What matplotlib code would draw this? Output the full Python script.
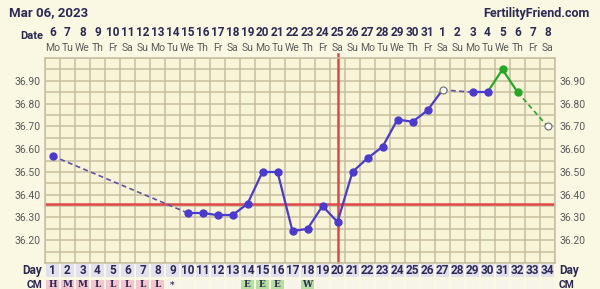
import numpy as np
import pandas as pd
import matplotlib
matplotlib.use("Agg")
import matplotlib.pyplot as plt
from matplotlib.ticker import MultipleLocator

plt.rcParams.update({"font.family": ["Roboto", "DejaVu Sans"], "font.size": 8})

# ----------------------------------------------------------------------
# Data

start_date = "2023-03-06"
cycle_days = list(range(1, 35))
nan = np.nan
temps = [36.57, nan, nan, nan, nan, nan, nan, nan, nan,
         36.32, 36.32, 36.31, 36.31, 36.36, 36.50, 36.50, 36.24, 36.25,
         36.35, 36.28, 36.50, 36.56, 36.61, 36.73, 36.72, 36.77, 36.86,
         nan, 36.85, 36.85, 36.95, 36.85, nan, 36.70]
green_days = [31, 32]
open_days = [27, 34]
coverline = 36.36
ovulation_day = 20
cm_codes = ["H", "M", "M", "L", "L", "L", "L", "L", "*", "", "", "", "",
            "E", "E", "E", "", "W"] + [""] * 16
ytick_vals = [36.20, 36.30, 36.40, 36.50, 36.60, 36.70, 36.80, 36.90]

# ----------------------------------------------------------------------
# Colours

BG = "#faf7e3"
PLOT_BG = "#f8f4d8"
GRID = "#c6bf9e"
NAVY = "#2c2a55"
GRAY = "#5a5a5a"
PURPLE = "#4a3ad0"
DASH_PURPLE = "#5c52a8"
GREEN = "#22aa22"
RED = "#e04848"

W, H = 600, 289
fig = plt.figure(figsize=(W / 100, H / 100), dpi=100, facecolor=BG)
ax = fig.add_axes([45 / W, 1 - 263 / H, 510 / W, 205 / H], facecolor=PLOT_BG)

ax.set_xlim(0.5, 34.5)
ax.set_ylim(36.10, 37.00)

# Grid: one cell per day, rows every 0.05
ax.set_xticks(np.arange(0.5, 35, 1))
ax.set_xticklabels([])
ax.yaxis.set_minor_locator(MultipleLocator(0.05))
ax.set_yticks(ytick_vals)
ax.set_yticklabels(["%.2f" % v for v in ytick_vals])
ax.grid(True, which="both", color=GRID, lw=1.1)
ax.tick_params(axis="x", length=0)
ax.tick_params(axis="y", which="both", length=0, labelsize=7.5, labelcolor=GRAY,
               left=True, right=True, labelleft=True, labelright=True, pad=3)
for s in ax.spines.values():
    s.set_color(GRID)
    s.set_linewidth(1.1)
ax.set_axisbelow(True)

# Coverline and ovulation line
ax.axhline(coverline, color=RED, lw=1.8, zorder=2)
ax.axvline(ovulation_day, ymin=0, ymax=1.02, color=RED, lw=1.8, zorder=2, clip_on=False)

# Temperature line: solid between consecutive days, dashed over gaps
pts = [(d, t) for d, t in zip(cycle_days, temps) if not np.isnan(t)]
for (d0, t0), (d1, t1) in zip(pts[:-1], pts[1:]):
    green = d0 in green_days or d1 in green_days
    if d1 - d0 == 1:
        ax.plot([d0, d1], [t0, t1], color=GREEN if green else PURPLE, lw=1.6, zorder=3)
    else:
        ax.plot([d0, d1], [t0, t1], color=GREEN if green else DASH_PURPLE,
                lw=1.2, ls=(0, (3, 2)), zorder=3)
for d, t in pts:
    if d in open_days:
        ax.plot(d, t, "o", ms=5, mfc="white", mec="#777777", mew=0.9, zorder=4)
    elif d in green_days:
        ax.plot(d, t, "o", ms=5, color=GREEN, zorder=4)
    else:
        ax.plot(d, t, "o", ms=5, color=PURPLE, zorder=4)

# ----------------------------------------------------------------------
# Header

fig.text(9 / W, 1 - 13 / H, "Mar 06, 2023", ha="left", va="center",
         fontsize=9.5, fontweight="bold", color=NAVY)
fig.text(590 / W, 1 - 13 / H, "FertilityFriend.com", ha="right", va="center",
         fontsize=9, fontweight="bold", color=NAVY)
fig.text(43 / W, 1 - 36 / H, "Date", ha="right", va="center",
         fontsize=8, fontweight="bold", color=NAVY)

dates = pd.date_range(start_date, periods=len(cycle_days))
wdays = ["Mo", "Tu", "We", "Th", "Fr", "Sa", "Su"]
trans = ax.get_xaxis_transform()
for d, dt in zip(cycle_days, dates):
    ax.text(d, 1 + 25 / 205, str(dt.day), transform=trans, ha="center", va="center",
            fontsize=8.5, fontweight="bold", color=NAVY, clip_on=False)
    ax.text(d, 1 + 10 / 205, wdays[dt.weekday()], transform=trans, ha="center",
            va="center", fontsize=7.5, color=GRAY, clip_on=False)

# ----------------------------------------------------------------------
# Day / CM rows under the chart

tab = fig.add_axes([45 / W, 0, 510 / W, 26 / H], facecolor="none")
tab.set_xlim(0.5, 34.5)
tab.set_ylim(289, 263)
tab.axis("off")

tab.bar(cycle_days, 13, bottom=264, width=0.88, color="#e4e1ee", zorder=1)
for d in cycle_days:
    tab.text(d, 270.5, str(d), ha="center", va="center", fontsize=8.5,
             fontweight="bold", color=NAVY)

cm_colors = []
for c in cm_codes:
    if c in ("H", "M", "L"):
        cm_colors.append("#f3c5cf")
    elif c in ("E", "W"):
        cm_colors.append("#b6e0a2")
    else:
        cm_colors.append("#f7f5ea")
tab.bar(cycle_days, 14, bottom=280, width=0.88, color=cm_colors, zorder=1)
for d, c in zip(cycle_days, cm_codes):
    if c:
        tab.text(d, 285, c, ha="center", va="center", fontsize=6.5,
                 fontweight="bold", family="DejaVu Serif", color=NAVY)

tab.text(0.3, 270.5, "Day", ha="right", va="center", fontsize=8.5,
         fontweight="bold", color=NAVY, clip_on=False)
tab.text(34.75, 270.5, "Day", ha="left", va="center", fontsize=8.5,
         fontweight="bold", color=NAVY, clip_on=False)
tab.text(0.3, 285, "CM", ha="right", va="center", fontsize=7.5,
         fontweight="bold", color=NAVY, clip_on=False)
tab.text(34.75, 285, "CM", ha="left", va="center", fontsize=7.5,
         fontweight="bold", color=NAVY, clip_on=False)

fig.savefig("out.png", dpi=100, facecolor=BG)
